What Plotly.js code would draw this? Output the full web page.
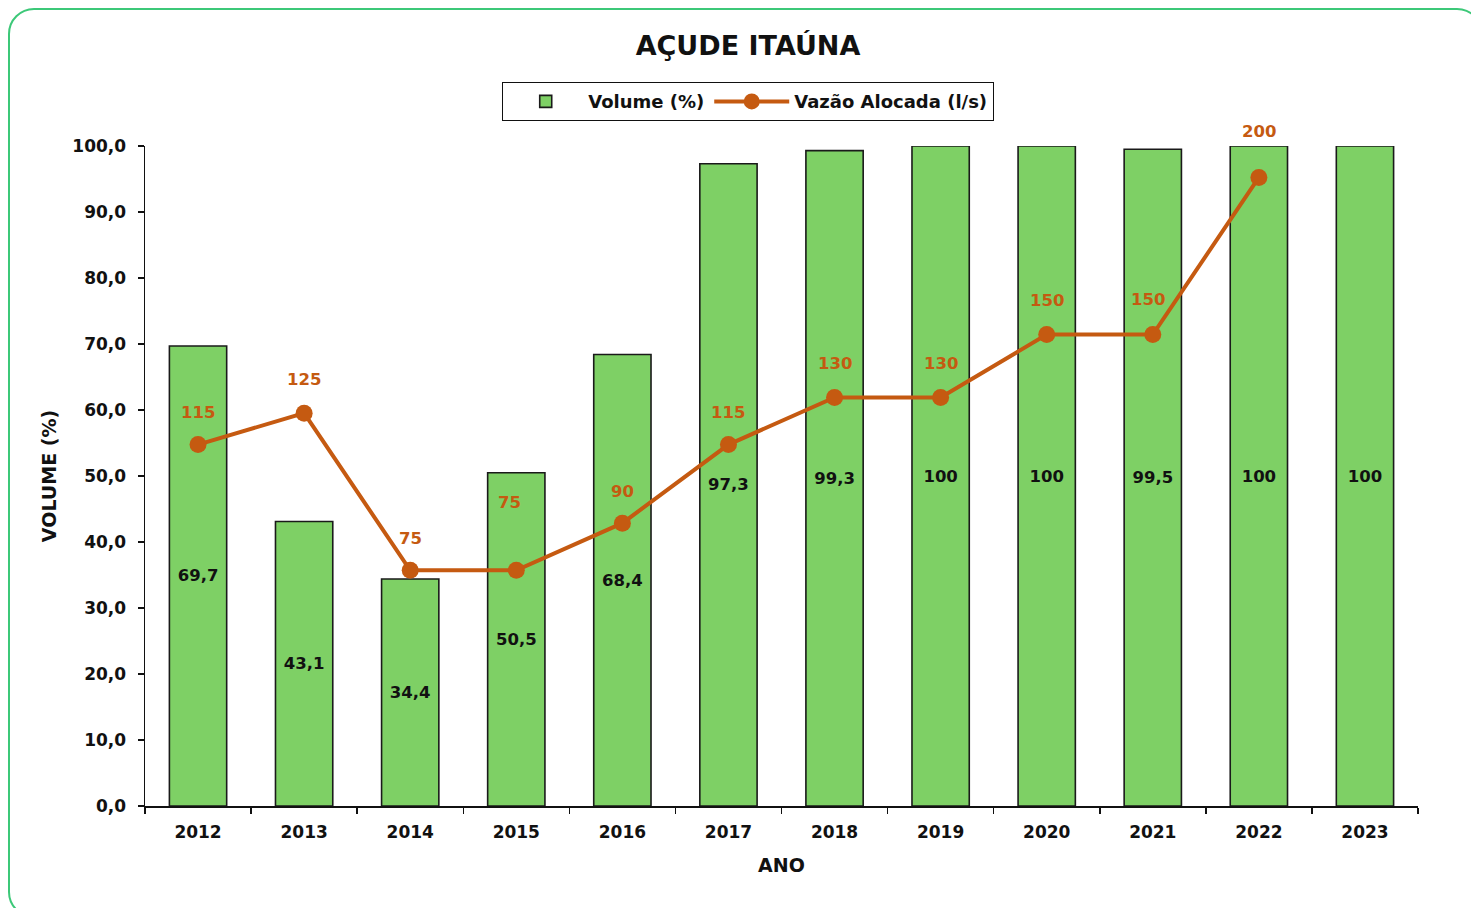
<!DOCTYPE html>
<html>
<head>
<meta charset="utf-8">
<script src="https://cdn.plot.ly/plotly-3.0.1.min.js"></script>
<style>
  html, body { margin: 0; padding: 0; background: #ffffff; }
  #frame { position: absolute; left: 8px; top: 8px; width: 1475px; height: 910px;
           border: 2px solid #3cc878; border-radius: 26px; box-sizing: border-box; }
  #chart { position: absolute; left: 0; top: 0; width: 1471px; height: 908px; }
</style>
</head>
<body>
<div id="frame"></div>
<div id="chart"></div>
<script>
// ---- data ----
const years = ['2012','2013','2014','2015','2016','2017','2018','2019','2020','2021','2022','2023'];
const volume = [69.7, 43.1, 34.4, 50.5, 68.4, 97.3, 99.3, 100, 100, 99.5, 100, 100];
const vazao = [115, 125, 75, 75, 90, 115, 130, 130, 150, 150, 200, null];

// ---- label placement (style) ----
const labelDy = [32, 34, 32, 68, 32, 32, 34, 34, 34, 35, 46, 0];
const labelDx = [0, 0, 0, -7, 0, 0, 0, 0, 0, -5, 0, 0];

const FONT = '"DejaVu Sans", Arial, sans-serif';
const ORANGE = '#C55A11';
const INK = '#111111';

const volText = volume.map(v => String(v).replace('.', ','));

const barTrace = {
  type: 'bar', name: 'Volume (%)', x: years, y: volume,
  marker: { color: '#7ED065', line: { color: '#1a1a1a', width: 1.6 } },
  text: volText, textposition: 'inside', insidetextanchor: 'middle',
  textangle: 0, constraintext: 'none',
  textfont: { family: FONT, size: 16.5, color: INK, weight: 'bold' },
  cliponaxis: false, hoverinfo: 'skip'
};

const lineTrace = {
  type: 'scatter', mode: 'lines+markers', name: 'Vazão Alocada (l/s)',
  x: years, y: vazao, yaxis: 'y2',
  line: { color: ORANGE, width: 4 },
  marker: { color: ORANGE, size: 17 },
  cliponaxis: false, hoverinfo: 'skip'
};

const annotations = [];
years.forEach((yr, i) => {
  if (vazao[i] === null) return;
  annotations.push({
    x: i, y: vazao[i], xref: 'x', yref: 'y2',
    text: String(vazao[i]), showarrow: false,
    yshift: labelDy[i], xshift: labelDx[i],
    font: { family: FONT, size: 16.5, color: ORANGE, weight: 'bold' }
  });
});

const layout = {
  width: 1471, height: 908,
  paper_bgcolor: 'rgba(0,0,0,0)', plot_bgcolor: 'rgba(0,0,0,0)',
  margin: { l: 145, r: 53, t: 146, b: 102 },
  separators: ',.',
  font: { family: FONT, color: INK },
  title: {
    text: '<b>AÇUDE ITAÚNA</b>', xref: 'container', yref: 'container',
    x: 0.5085, y: 0.950, xanchor: 'center', yanchor: 'middle',
    font: { family: FONT, size: 27, color: INK }
  },
  bargap: 0.46,
  showlegend: true,
  legend: {
    orientation: 'h', x: 0.4737, xanchor: 'center', y: 1.097, yanchor: 'top',
    bordercolor: INK, borderwidth: 1.2, bgcolor: '#ffffff',
    font: { family: FONT, size: 18, color: INK, weight: 'bold' },
    itemwidth: 75, tracegroupgap: 0
  },
  xaxis: {
    type: 'category', range: [-0.5, 11.5], autorange: false,
    showgrid: false, zeroline: false,
    showline: true, linecolor: INK, linewidth: 1.5,
    ticks: 'outside', tickson: 'boundaries', ticklen: 6, tickcolor: INK, tickwidth: 1.5,
    ticklabelstandoff: 10,
    tickfont: { family: FONT, size: 17, color: INK, weight: 'bold' },
    title: { text: 'ANO', standoff: 18, font: { family: FONT, size: 19, color: INK, weight: 'bold' } }
  },
  yaxis: {
    range: [0, 100], autorange: false, dtick: 10, tickformat: '.1f', showgrid: false, zeroline: false,
    showline: true, linecolor: INK, linewidth: 1.5,
    ticks: 'outside', ticklen: 6, tickcolor: INK, tickwidth: 1.5,
    ticklabelstandoff: 8,
    tickfont: { family: FONT, size: 17, color: INK, weight: 'bold' },
    title: { text: 'VOLUME (%)', standoff: 10, font: { family: FONT, size: 19, color: INK, weight: 'bold' } }
  },
  yaxis2: {
    overlaying: 'y', side: 'right', range: [0, 210], autorange: false,
    visible: false, showgrid: false, zeroline: false
  },
  annotations: annotations
};

Plotly.newPlot('chart', [barTrace, lineTrace], layout, { displayModeBar: false, staticPlot: true });
</script>
</body>
</html>
